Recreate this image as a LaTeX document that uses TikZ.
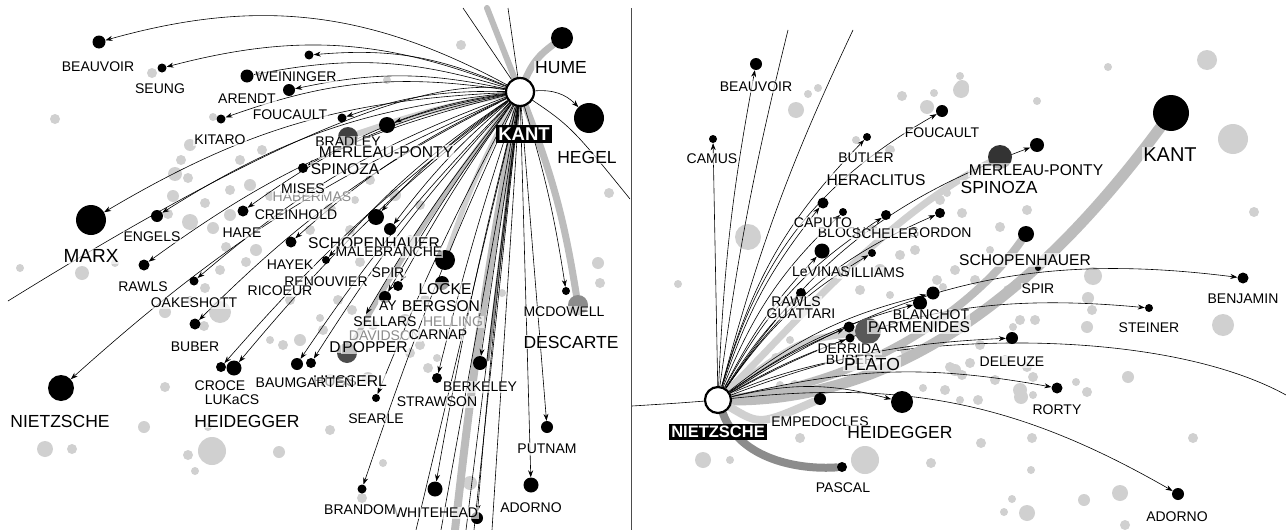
\documentclass[tikz,border=0pt]{standalone}
\usepackage{fontspec}
\setmainfont{Liberation Sans}
\usetikzlibrary{arrows.meta, backgrounds}
\definecolor{dotgrey}{RGB}{208, 208, 208}
\definecolor{bandgrey}{RGB}{188, 188, 188}
\definecolor{darkband}{RGB}{140, 140, 140}
\tikzset{
  focus/.style={circle, draw=black, line width=2.2pt, fill=white, minimum size=#1, inner sep=0pt},
  thinker/.style={circle, fill=black, minimum size=#1, inner sep=0pt},
  lbl/.style={inner sep=1pt, fill=white, fill opacity=0.65, text opacity=1, font=\fontsize{14}{14}\selectfont},
  ghostlbl/.style={lbl, text=black!45},
  midlbl/.style={lbl, font=\fontsize{15.6}{16}\selectfont},
  biglbl/.style={lbl, font=\fontsize{17.5}{18}\selectfont},
  tag/.style={fill=black, text=white, inner sep=2.5pt, font=\bfseries\fontsize{18.5}{18.5}\selectfont},
  edge/.style={line width=0.6pt, -{Stealth[length=7pt, width=5pt]}},
  band/.style={line width=#1, draw=bandgrey, line cap=round},
}

\begin{document}
\begin{tikzpicture}[x=1pt, y=-1pt]
  \useasboundingbox (0,0) rectangle (1286,530);

  % focus nodes
  \node[focus=28pt] (kantL) at (520,92) {};
  \node[focus=26pt] (nietR) at (718,400) {};

  % left panel - thinkers around KANT
  \foreach \n/\x/\y/\s in {
      humeL/562/38/22, hegelL/589/118/30, beauvoirL/99/42/13, seungL/162/68/9,
      weinL/247/76/13, wA/309/55/9, arendtL/289/90/12, kitaroL/221/119/9,
      fouL/342/118/9, bradL/387/125/16, spinL/303/168/10, hareL/243/211/11,
      engelsL/157/216/12, marxL/91/220/30, rawlsL/144/265/11, oakL/194/281/9,
      buberL/195/324/11, nietL/61/388/26, hayekL/291/242/11, renL/326/260/8,
      schopL/376/217/16, malL/390/229/12, malbL/445/260/20, lockeL/442/283/14,
      spirL/398/286/10, spirbL/385/297/12, crocL/221/367/10, lukL/234/368/15,
      baumL/297/364/12, baumbL/311/363/10, searleL/376/398/8, brandL/362/489/9,
      whiteL/435/489/15, whitebL/477/518/12, berkL/437/378/10, berkbL/480/363/14,
      mcdL/566/291/8, putL/547/427/12, adoL/531/485/15
  } {
      \node[thinker=\s pt] (\n) at (\x,\y) {};
  }
  \node[thinker=20pt, fill=black!75] (bradbg) at (348,137) {};
  \node[thinker=20pt, fill=black!70] (popL) at (347,353) {};
  \node[thinker=20pt, fill=black!45] (descL) at (578,305) {};

  % right panel - thinkers around NIETZSCHE
  \foreach \n/\x/\y/\s in {
      beauvoirR/756/64/12, camusR/713/139/8, butlerR/867/137/8, foucR/942/111/12,
      capR/823/203/11, blochR/843/212/8, schelR/886/215/10, gordR/940/213/10,
      mpR/1037/145/14, levR/822/251/15, willR/872/253/8, rawlsR/801/293/10,
      blanR/933/293/13, blanbR/920/303/14, parR/849/327/11, parbR/850/338/9,
      schopR/1026/234/16, spirR/1038/268/6, benR/1243/278/11, steinR/1149/308/8,
      delR/1012/338/12, rortyR/1057/388/11, adoR/1178/494/12, heidR/902/402/22,
      empR/820/399/12, pascR/842/467/10, kantR/1171/113/36
  } {
      \node[thinker=\s pt] (\n) at (\x,\y) {};
  }
  \node[thinker=24pt, fill=black!80] (mpbgR) at (1000,157) {};
  \node[thinker=26pt, fill=black!65] (parbgR) at (868,331) {};

  % loose ends
  \coordinate (topA) at (463,8);   \coordinate (topB) at (508,8);
  \coordinate (topG) at (487,8);   \coordinate (botG) at (455,530);
  \coordinate (darkG) at (488,360); \coordinate (sellA) at (366,314);
  \coordinate (botA) at (416,530); \coordinate (botB) at (441,530);
  \coordinate (botC) at (466,530); \coordinate (botD) at (474,530);
  \coordinate (botE) at (492,530);
  \coordinate (topC) at (788,30);  \coordinate (topD) at (853,30);
  \coordinate (horL1) at (8,301);  \coordinate (horL2) at (630,199);
  \coordinate (horR1) at (632,406); \coordinate (horR2) at (1286,395);

  \begin{scope}[on background layer]
    % grey crowd
    \foreach \x/\y/\r in {
        152/73/5, 461/45/5, 387/80/4, 55/119/5, 213/117/4, 190/145/6, 181/160/5,
        175/174/7, 188/178/5, 173/196/6, 168/214/5, 190/222/8, 205/203/5, 213/228/6,
        230/215/6, 226/247/5, 240/160/5, 262/150/5, 250/185/6, 270/196/5, 230/190/5,
        246/262/5, 256/250/6, 220/270/5, 205/288/5, 220/312/11, 190/300/4, 165/312/6,
        20/268/4, 82/273/7, 115/263/4, 204/326/5, 290/300/5, 310/230/5, 330/210/6,
        350/230/5, 360/262/5, 338/300/5, 352/310/5, 320/318/4, 300/340/6, 283/345/5,
        323/330/5, 355/200/4, 370/180/5, 395/195/6, 420/205/5, 410/240/5, 425/300/5,
        405/320/6, 420/345/5, 437/358/4, 428/368/5, 373/325/5, 410/353/5, 368/378/6,
        330/380/6, 270/340/4, 165/387/5, 144/427/6, 45/449/8, 72/449/5, 212/451/14,
        188/455/5, 195/471/4, 279/452/6, 208/427/4, 330/430/5, 383/463/4, 470/483/7,
        609/193/5, 600/283/5, 598/263/6, 502/293/4, 362/498/5,
        748/237/13, 678/284/4, 796/110/8, 808/94/4, 818/88/4, 902/96/5, 927/107/7,
        934/93/4, 961/90/8, 960/76/4, 1037/101/4, 1108/67/4, 1207/60/10, 962/87/7,
        1233/139/15, 1254/212/5, 1093/276/9, 1088/298/6, 1092/310/5, 1087/327/6,
        1223/325/11, 1128/377/6, 1087/392/5, 1076/382/4, 1193/438/5, 1032/438/5,
        981/443/5, 1031/470/4, 1084/500/6, 1120/493/8, 1027/513/8, 1012/499/4,
        1004/512/4, 1125/525/5, 1021/397/7, 1033/395/4, 940/200/5, 947/193/4,
        962/213/5, 955/270/5, 937/280/5, 943/287/4, 1000/227/5, 1027/210/5,
        1008/290/5, 1020/320/5, 1035/320/5, 1013/327/4, 955/370/6, 970/363/5,
        962/375/5, 1027/367/5, 1033/377/5, 1020/390/7, 703/460/8, 730/460/4,
        800/438/5, 865/460/14, 931/463/5, 923/388/4, 950/367/5, 985/310/5,
        980/345/5, 995/380/5, 1005/360/5, 960/330/4, 975/280/5, 990/250/4,
        880/270/6, 900/255/5, 915/250/5, 860/290/5, 890/295/4, 905/350/5,
        945/390/5, 960/400/4, 978/400/5, 873/230/5, 890/150/5, 856/140/4,
        780/385/4, 795/385/5, 776/358/5, 790/340/4
    } {
        \fill[dotgrey] (\x,\y) circle (\r pt);
    }

    % horizons and panel split
    \draw[line width=0.6pt] (horL1) .. controls (200,182) and (420,62) .. (kantL.center)
        .. controls (570,125) .. (horL2);
    \draw[line width=0.6pt] (horR1) .. controls (680,403) .. (nietR.center)
        .. controls (850,330) and (1150,320) .. (horR2);
    \draw[line width=1pt, black!70] (631,8) -- (631,530);

    % grey bands
    \draw[band=7pt] (kantL) to[bend left=15] (humeL);
    \draw[band=6pt] (kantL) -- (topG);
    \draw[band=8pt] (kantL) to[bend right=2] (botG);
    \draw[band=3pt, darkband] (kantL) -- (darkG);
    \draw[band=7pt] (kantL) to[bend left=6] (descL);
    \draw[band=6pt, dotgrey] (kantL) to[bend right=4] (bradbg);
    \draw[band=5pt] (kantL) to[bend right=4] (popL);
    \draw[band=5pt, dotgrey] (kantL) to[bend right=5] (malbL);
    \draw[band=11pt] (nietR) .. controls (900,400) and (1040,290) .. (kantR);
    \draw[band=8pt] (nietR) .. controls (880,380) and (980,300) .. (schopR);
    \draw[band=7pt, dotgrey] (nietR) .. controls (790,330) and (880,220) .. (mpbgR);
    \draw[band=7pt, dotgrey] (nietR) .. controls (800,340) .. (parbgR);
    \draw[band=8pt, darkband] (nietR) .. controls (740,460) and (800,470) .. (pascR);
    \draw[band=8pt, dotgrey] (nietR) .. controls (760,425) .. (empR);

    % KANT's arrows
    \foreach \t/\b in {
        beauvoirL/22, seungL/18, wA/14, weinL/14, arendtL/12, kitaroL/14, fouL/10,
        bradL/6, spinL/10, marxL/14, engelsL/13, hareL/12, rawlsL/11, oakL/10,
        buberL/9, nietL/9, hayekL/8, renL/7, schopL/6, malL/6, crocL/6, lukL/6,
        baumL/5, baumbL/5, spirL/3, spirbL/3, searleL/3, brandL/3, whiteL/2,
        whitebL/1, berkL/2, berkbL/0, putL/0, adoL/0, sellA/4
    } {
        \draw[edge] (kantL) to[bend right=\b] (\t);
    }
    \draw[edge] (kantL) to[bend left=4] (mcdL);
    \draw[edge] (kantL) to[bend left=25] (hegelL);
    \foreach \t in {topA, topB, botA, botB, botC, botD, botE}
        \draw[line width=0.6pt] (kantL) -- (\t);

    % NIETZSCHE's arrows
    \foreach \t/\b in {
        beauvoirR/4, camusR/0, butlerR/14, foucR/22, capR/10, blochR/12, schelR/14,
        gordR/16, mpR/18, levR/8, willR/12, rawlsR/6, blanR/12, blanbR/10, parR/6,
        parbR/5, benR/20, steinR/17, delR/9, rortyR/12, adoR/18, heidR/14
    } {
        \draw[edge] (nietR) to[bend left=\b] (\t);
    }
    \draw[line width=0.6pt] (nietR) to[bend left=3] (topC);
    \draw[line width=0.6pt] (nietR) to[bend left=5] (topD);
  \end{scope}

  % labels underneath
  \node[lbl] (lBradley) at (348,142) {BRADLEY};
  \node[ghostlbl] (lHaber) at (312,197) {HABERMAS};
  \node[ghostlbl] (lHell) at (453,322) {HELLING};
  \node[ghostlbl] (lDavid) at (385,336) {DAVIDSON};
  \node[midlbl] (lHuss) at (350,381) {HUSSERL};
  \node[lbl] (lAy) at (388,306) {AY};
  \node[lbl] (rBloch) at (842,233) {BLOCH};
  \node[lbl] (rGordon) at (940,233) {GORDON};
  \node[lbl] (rWill) at (871,273) {WILLIAMS};
  \node[lbl] (rBuber) at (850,360) {BUBER};
  \node[lbl] (rBlan) at (931,315) {BLANCHOT};

  \foreach \n/\x/\y/\t in {
      lMP/386/152/MERLEAU-PONTY, lSpinL/345/169/SPINOZA, lSchopL/374/243/SCHOPENHAUER,
      lLocke/445/289/LOCKE, lBerg/441/306/BERGSON, lPopper/375/347/POPPER, lD/335/347/D,
      rHera/876/180/HERACLITUS, rMP/1036/170/MERLEAU-PONTY, rPar/919/327/PARMENIDES,
      rSchop/1025/260/SCHOPENHAUER
  } {
      \node[midlbl] (\n) at (\x,\y) {\t};
  }

  \foreach \n/\x/\y/\t in {
      lBeauvoir/98/67/BEAUVOIR, lSeung/160/89/SEUNG, lWein/296/77/WEININGER,
      lArendt/247/99/ARENDT, lFou/290/115/FOUCAULT, lKitaro/220/140/KITARO,
      lMises/303/189/MISES, lReinhold/296/215/CREINHOLD, lHare/242/233/HARE,
      lEngels/152/237/ENGELS, lRawls/143/287/RAWLS, lOak/194/303/OAKESHOTT,
      lBuber/195/347/BUBER, lHayek/290/265/HAYEK, lMal/389/252/MALEBRANCHE,
      lRen/326/282/RENOUVIER, lRic/280/291/RICOEUR, lSpir/388/273/SPIR,
      lSellars/385/322/SELLARS, lCarnap/438/335/CARNAP, lCroce/220/386/CROCE,
      lLukacs/232/400/LUKaCS, lBaum/305/383/BAUMGARTEN, lSearle/376/419/SEARLE,
      lStraw/437/402/STRAWSON, lBerk/480/387/BERKELEY, lMcd/564/312/MCDOWELL,
      lPut/547/449/PUTNAM, lAdo/531/508/ADORNO, lWhite/436/513/WHITEHEAD,
      lBrand/360/510/BRANDOM,
      rBeauvoir/756/87/BEAUVOIR, rCamus/712/159/CAMUS, rButler/866/158/BUTLER,
      rFouc/942/133/FOUCAULT, rCaputo/823/223/CAPUTO, rScheler/885/234/SCHELER,
      rLev/821/272/LeVINAS, rRawls/796/302/RAWLS, rGuat/801/314/GUATTARI,
      rDerr/849/349/DERRIDA, rEmp/820/422/EMPEDOCLES, rPasc/843/488/PASCAL,
      rSpir/1038/289/SPIR, rBen/1243/299/BENJAMIN, rStein/1149/328/STEINER,
      rDel/1012/362/DELEUZE, rRorty/1057/410/RORTY, rAdo/1177/517/ADORNO
  } {
      \node[lbl] (\n) at (\x,\y) {\t};
  }

  \foreach \n/\x/\y/\t in {
      lHume/561/68/HUME, lHegel/587/157/HEGEL, lNiet/60/421/NIETZSCHE,
      lHeid/247/421/HEIDEGGER, lDesc/571/342/DESCARTE,
      rSpin/999/187/SPINOZA, rPlato/872/364/PLATO, rHeid/900/432/HEIDEGGER
  } {
      \node[biglbl] (\n) at (\x,\y) {\t};
  }
  \node[biglbl, font=\fontsize{19}{19}\selectfont] (lMarx) at (91,256) {MARX};
  \node[biglbl, font=\fontsize{20}{20}\selectfont] (rKant) at (1170,155) {KANT};

  % focus tags
  \node[tag] (kantTag) at (524,134) {KANT};
  \node[tag, font=\bfseries\fontsize{16.5}{16.5}\selectfont] (nietTag) at (718,432) {NIETZSCHE};
\end{tikzpicture}
\end{document}
